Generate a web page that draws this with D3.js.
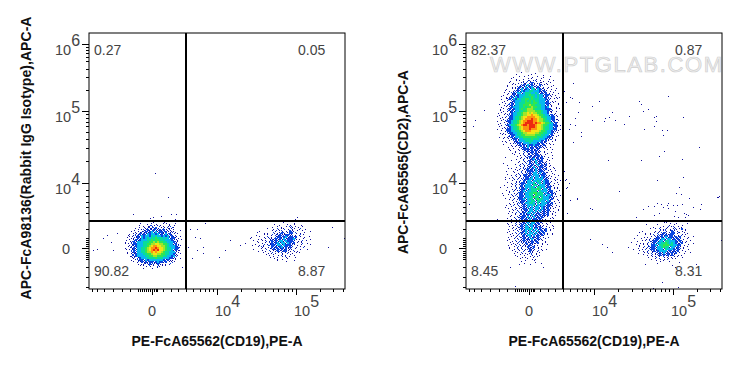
<!DOCTYPE html>
<html>
<head>
<meta charset="utf-8">
<script src="https://cdn.jsdelivr.net/npm/d3@7"></script>
<style>
  body { margin: 0; background: #fff; }
  text { font-family: "Liberation Sans", Arial, sans-serif; }
</style>
</head>
<body>
<script>
// everything is in display channels (0-256)
var xMajor = [63, 128, 207];
var xMinor = [3, 8, 15, 24, 33, 41, 49, 51, 53, 55, 57, 59, 61, 65, 67, 68, 74, 82, 89, 97, 104, 111, 116, 120, 124,
  152, 166, 176, 184, 189, 195, 199, 203, 231, 244, 254];
var xLabels = ['0', '10|4', '10|5'];
var yMajor = [41, 106, 178, 245];
var yMinor = [2, 12, 22, 30, 32, 34, 36, 38, 43, 45, 47, 49, 51, 60, 76, 82, 87, 93, 99,
  128, 141, 150, 157, 163, 167, 171, 175, 199, 212, 220, 228, 232, 236, 239, 242];
var yLabels = ['0', '10|4', '10|5', '10|6'];

var gateX = 97;
var gateY = 68;

var leftTitleX = 'PE-FcA65562(CD19),PE-A';
var leftTitleY = 'APC-FcA98136(Rabbit IgG Isotype),APC-A';
var rightTitleX = 'PE-FcA65562(CD19),PE-A';
var rightTitleY = 'APC-FcA65565(CD2),APC-A';

var leftPercents = ['0.27', '0.05', '90.82', '8.87'];
var rightPercents = ['82.37', '0.87', '8.45', '8.31'];

// density cells, 2 channels each. digits fill the cell, level 2 to 9.
// a-d: one dark blue event in a corner of the cell, e-h: a blue event plus a dark one
var leftNegOrigin = [32, 68];
var leftNegCells = [
  '...........a....c.b..d...a.....',
  '.........b...c.a.d...ab.c..a...',
  '.........a.c.dfeb.ag.c.dh.b....',
  '.......c.a.bcgefe2d.ag.ecfa....',
  '......d.b.aeg2fh2eh2f2bce.a..d.',
  '.....a.cbdge2e23e3h22f2bdhac...',
  '....c.agd2e2g323323e2h3f2cb.a..',
  '...bcdae2f32332434332323f2ce.d.',
  '...a.cfb2e32343445444343e22ad..',
  '..d.a.h2e23334454554443332gbc.a',
  '..c.bf2g3334445565655443332ea..',
  '..ab.e22333445566776655433f2d..',
  '...dafh233344567887766543332fb.',
  '..c.be2f334456788987765443322a.',
  '..b.ag2g334456789897765443f2ec.',
  '...c.e2f3344566878776544333gd..',
  '...a.hg23334455677665544332e.b.',
  '....dfe23333445566555443323ha..',
  '.....bf.g23334444544433322fc.d.',
  '.....c.ae22e3233333332g2ed.a...',
  '......a.fb2e2f22e2322f2.ahb....',
  '........d.cfae2fgb2ed.c.f......',
  '.........b.ad.e.a.gcb.a........',
  '...........c...d..a...........b'
];

var leftPosOrigin = [156, 67];
var leftPosCells = [
  '...................a....d.........',
  '..............b..c...ad.b...c.....',
  '.............d..a.c.b.ee.ad.b.....',
  '...........a..c.e.ah.d.eb..f..c...',
  '.......c.....b.f.ae.d.2gc.a.b...d.',
  '......a..d.c..e.ch2e.a22.e.d.b....',
  '.....d...b.a.f.ge2gg22eh.c.f.a....',
  '...c...a.d.e.c.g22f23e22g2.b.d..a.',
  '..b...d.c.a.ehf2e2e3g2223e.c.a..d.',
  '....a.c.b.h.f2g2e33f3222g.d.f.b...',
  'c.....b.d.a.e2g23g33f32e2.a.h..c..',
  '...d.a.c.f.hg22e33g3222fb.c.a...b.',
  '......b.ea.d.2e2g23f2e2f.d.b.g....',
  '....c...a.h.be2f2g2e2bfc.a.d...c..',
  '......d.b.c.e.af2ge22bd.e.c.......',
  '.........a.d.f.cb.e.ag.d.b.a......',
  '..........b.c.a.d.g.c.b.d.........',
  '............d.a.c.b.e.a..c........',
  '..............b.c.d..a............',
  '................a...d...b.........'
];

var rightColOrigin = [29, 217];
var rightColCells = [
  '.............a......c............',
  '..........b.....d.a.....c........',
  '.........c..a.b...d..a..c..b.....',
  '........a.d...c.b.a.d..a...c.....',
  '.......d..b.a.c.ge.ae.b.c.d..a...',
  '.......a.c.d.aef.f2e.cga.d.b.....',
  '......c.b.a.de2e3f2gd.2hb.a..c...',
  '......a.d.ce2eg3f23ge2f.c.d.a....',
  '.....d..b.a2e3e23g34f32ge.a.c.b..',
  '.....a.c.fg2e3233443332f2g.d..a..',
  '....b.d.e2f33e34443343e2g2.c.a.d.',
  '....c.a.g2e2333445443433f22eb.c..',
  '...a.d.f2g32334444543433e2e.a.d.c',
  '...c.bh2e32434455454443332fg.b.a.',
  '....d.a.e2333445454544333e2.d.c..',
  '...b.c.g2f33444555455433322f.a.d.',
  '..a.d.fe2e334455565544433f2bc..b.',
  '...c.b.h2333445455655443323.a.d..',
  '..d.a.g2e2334545666544433222c.b.a',
  '..b.c.fe2e33445566665554332ef.d..',
  '.d.a.c.g2334456676766554332.a.c..',
  '..c.b.he2334456677877655433f2gd.b',
  '.a.d.f.22344567788887765443322.a.',
  '..b.c.g22344567888988766543322dc.',
  '.c.a.e2234456788999887665443f2.b.',
  '..d.b.f2344567899998988765543g2a.',
  '.b.c.e2344567899899987765543322cd',
  '..a.d.g2344567888999877654433f2a.',
  '.c.b.h2234456788898887765443322.d',
  '...a.f22334456788877776554332fgb.',
  '..d.c.e2233445667777665544332e.a.',
  '...b.a.g2234455666665554433f2c.d.',
  '..c.d.fh2e334455555554443322e.b..',
  '....a.b.g22e33444454443332ehg.c..',
  '...d.c.a.e2f333444433332e2b.d.a..',
  '.....b.d.fg22e33343332f2ge.c.....',
  '....a...c.de2g2e322322eg2c.b.a...',
  '......d.b.a.fe2g3e2g2f2gce.d.....',
  '.......c.a.d.e222f2eg2a.b.c.d....',
  '.......b..c.a.ge2f2g2eh.d.......',
  '........d.a.c.f.eg2e2fa.b.c.a....',
  '.........b..d.e.ghfe22gc.a..d....',
  '.....c.....a.c.hf2e2e2e2b.d......',
  '..........d.b.f.ae23f2g2a.c.b....',
  '........a...c.e.g2fe3e22.d.a.....',
  '...........b.d.h.2fg3e2geh.c.....',
  '......c...a.g.e.fe2ef3e2g2.d.....',
  '..........d.b.f.g2e3gf22ge.a.c...',
  '......b.a.c.f.eh2e2e3e2gf2.d.b...',
  '.....d...c.a.g.f222g3e22g.b.c.a..',
  '.........b.d.e.he2f33e3e2ga.d....',
  '......a.c.g.e.22e2g333f22e.c.b.d.',
  '........d.b.f.g22e3e33e32ef.a.c..',
  '.....c.a.e.g.he2233f3333e2gb.d.c.',
  '........b.d.f.2e33g3343e322.c.a.b',
  '......a.c.g.e22g3334f34e322f.d.a.',
  '....d...b.f.h2e333g44e333e2h.c.b.',
  '......c.a.e.g2f33343f4433e22ad.c.',
  '........d.f.e223e344454e33e2.b.a.',
  '.....b.c.g.ae23g33444f4333e22.d.a',
  '.......a.d.f22e334455444e32g2fc..',
  '....c.b.e.g.22g3344f54443e332.a.d',
  '.......d.a.e22e3334544f43332gfb..',
  '.....a.c.g.f223e344g4544333e2a.c.',
  '........b.d.e22e3344g4433e32.d.b.',
  '.......c.a.fg2e33443f4e3332e2.c.a',
  '.....d.b.g.e.g2e3334e3333e22f.d..',
  '........a.c.ef2e3e3g33g32e2hb.c.a',
  '......b.d.g.af22g33f33e32f2g.a.d.',
  '.......c.a.h.eg2e33g3f3e2f2e.c.b.',
  '......d.b.f.eg2e33f3e2ge2g2.d.a..',
  '........c.a.fe2g2e3h2f2e2f2.b.c..',
  '.......b.d.eg22e3fg3e2f2g.a.d....',
  '......a.c.e.g2e2g3e22f2e.c.b.a...',
  '.......d.b.f.he2g3e3f2g2.a.d.c...',
  '......c.a.g.eg2f3e33f2ge.d.b.....',
  '......b.d.f.h2e3g33f2ge.c.a.d....',
  '.......a.c.eg2e33f3e2f2g.b.c.a...',
  '......d.b.g.f2e3343f3e2ge2.d.a...',
  '.......c.a.h.e23g3f3e3f2g2.b.....',
  '......a.d.e.g2e3f33e3g2f2.c.d....',
  '.......b.c.f.h2e33f3e2g2f.a.b....',
  '......d.a.g.eg2fe3e2f2g.c.d......',
  '.......c.b.h.f2e2f3eg2fc.a.......',
  '......a.d.e.gf2ehe2g2f.b.c.......',
  '.......b.c.f.ea2ge2ef2.d.a.......',
  '......d.a.h.e.gfe2gd.c.b..a......',
  '.......c.b.f.g.a2ef2.d.a.........',
  '.......a.d.e.h.cg2fe.b.c.d.......',
  '........b.c.a.g.d2ea.f.b.........',
  '.........d.a.e.c.fg.d.a..........',
  '..........c.b.d.a.e.b.c..........',
  '...........a.d.c.b.f.a...........',
  '............b...a.d.c............',
  '.............c.a...b.............',
  '..............d.....a..c.........',
  '............a....b...............'
];

var rightPosOrigin = [161, 67];
var rightPosCells = [
  '...................b....d..........',
  '...............a.....c.b...d.......',
  '.............c..d.a.f.ae.b.c.......',
  '...........b..a.e.cg.d.he.a2.c.....',
  '.......d......c.f.ae.b2g.c.d.a.....',
  '......a..c.d.b.g.e2e.h22.fa.b.c....',
  '.....c...a.b.e.fg2e2g22e.d.g.a.....',
  '........d.c.a.e2g2f3e22f2g2.b.d..a.',
  '...b...a.d.f.g22e33f33e2g2f.c.a....',
  '.....c.b.a.eg22e33f443332f2e.d.b...',
  '..a...d.c.f.g2e3344543432ef2.a...c.',
  '....b.c.a.h.223f44555443322.d.b....',
  'd.....a.f.ge22e334544f33e2g.c.a....',
  '...c.b.d.g.e22e333f43332g2f.a.d....',
  '......a.c.f.e2g23333f2e2f2.b.c.....',
  '.....d..b.e.g.fe2g3e2f2e2.a.d..b...',
  '........a.c.f.ae2g2e2e2g.d.c.......',
  '..........d.b.h.a.e.f.cb.a.d.......',
  '............c.a.e.d.g.b.a..........',
  '..............b.d.a..c.............',
  '...............c..........a........',
  '.........a............d...........b',
  '........................c..........'
];

// single stray events
var leftStrayX = [66, 79, 44, 61, 64, 72, 82, 87, 86, 54, 18, 14, 22, 4, 8, 24, 28, 101, 108, 116, 106, 111, 114, 96, 99, 108, 114, 103, 141, 151, 136, 130, 243, 255, 239, 208, 206, 198];
var leftStrayY = [116, 92, 75, 71, 72, 73, 75, 75, 70, 69, 54, 51, 47, 39, 40, 39, 56, 60, 60, 66, 52, 51, 42, 56, 42, 39, 36, 31, 49, 44, 39, 32, 62, 51, 42, 72, 70, 69];
var rightStrayX = [107, 98, 104, 106, 100, 113, 133, 126, 173, 175, 177, 182, 202, 112, 109, 126, 139, 138, 143, 146, 149, 163, 158, 188, 190, 190, 217, 104, 109, 103, 115, 115, 107, 178, 188, 196, 201, 197, 233, 198, 193, 216, 142, 175, 191, 217, 153, 213, 210, 215, 223, 111, 235, 227, 234, 126, 251, 253, 182, 177, 188, 191, 195, 188, 193, 202, 201, 197, 202, 207, 211, 216, 209, 218, 220, 208, 212, 219, 222, 170, 185, 198, 202, 180, 204, 221, 100, 101, 103, 98, 100, 96,
  37, 39, 3, 7, 9, 18, 34, 31, 49, 44, 77, 36, 39, 124, 141, 146, 136, 101, 99, 104, 111, 124, 255, 252, 196, 212, 187];
var rightStrayY = [206, 198, 192, 191, 187, 187, 188, 183, 188, 185, 178, 180, 193, 177, 171, 169, 171, 168, 172, 177, 169, 173, 165, 172, 173, 168, 172, 165, 164, 160, 157, 153, 147, 160, 163, 159, 159, 154, 142, 138, 133, 130, 129, 129, 109, 112, 98, 102, 96, 95, 91, 90, 85, 82, 80, 80, 92, 93, 83, 80, 83, 86, 85, 74, 76, 86, 84, 82, 81, 84, 84, 85, 78, 76, 75, 73, 72, 72, 74, 72, 69, 67, 69, 65, 66, 66, 110, 102, 106, 118, 101, 85,
  126, 112, 85, 163, 169, 179, 102, 70, 3, 22, 22, 96, 82, 50, 42, 37, 45, 76, 109, 89, 91, 81, 49, 92, 7, 2, 1];

var svg = d3.select('body').append('svg')
    .attr('width', 743)
    .attr('height', 369)
    .style('display', 'block');

var levelColor = d3.scaleOrdinal()
    .domain([1, 2, 3, 4, 5, 6, 7, 8, 9])
    .range(['#10109c', '#0a46e0', '#08b8f0', '#08dc9c', '#30e650', '#a0e62a', '#f4e414', '#fc9410', '#ee2a10']);

var x = d3.scaleLinear().domain([0, 256]).range([0, 256]);
var y = d3.scaleLinear().domain([0, 256]).range([256, 0]);

function drawCells(g, cells, origin) {
  var data = [];
  cells.forEach((row, r) => {
    row.split('').forEach((c, i) => {
      if (c === '.') return;
      var cx = origin[0] + i * 2;
      var cy = origin[1] - r * 2;
      var single = 'abcdefgh'.indexOf(c);
      if (single < 0) {
        data.push({ cx: cx, cy: cy, size: 2, level: +c });
        return;
      }
      var dx = single % 2;
      var dy = single % 4 > 1 ? 1 : 0;
      data.push({ cx: cx + dx, cy: cy - dy, size: 1, level: single < 4 ? 1 : 2 });
      if (single >= 4) data.push({ cx: cx + 1 - dx, cy: cy - 1 + dy, size: 1, level: 1 });
    });
  });
  g.append('g').selectAll('rect')
      .data(data)
      .enter().append('rect')
      .attr('x', (d) => x(d.cx))
      .attr('y', (d) => y(d.cy))
      .attr('width', (d) => d.size)
      .attr('height', (d) => d.size)
      .attr('fill', (d) => levelColor(d.level));
}

function powerLabel(sel, label, px, py, anchor) {
  var parts = label.split('|');
  var t = sel.append('text')
      .attr('x', px)
      .attr('y', py)
      .attr('fill', '#444')
      .attr('font-size', 14.5)
      .attr('text-anchor', anchor);
  t.append('tspan').text(parts[0]);
  if (parts[1]) t.append('tspan').attr('font-size', 16).attr('dy', -9).text(parts[1]);
}

function drawPlot(opts) {
  var g = svg.append('g').attr('transform', `translate(${opts.left},33)`);

  if (opts.mark) {
    g.append('text')
        .attr('x', 24)
        .attr('y', 39)
        .attr('font-size', 22)
        .attr('fill', '#f0f0f0')
        .attr('stroke', '#cfcfcf')
        .attr('stroke-width', 0.7)
        .attr('textLength', 232)
        .text(opts.mark);
  }

  opts.grids.forEach((p) => drawCells(g, p[0], p[1]));

  g.append('g').selectAll('rect')
      .data(opts.strayX)
      .enter().append('rect')
      .attr('x', (d) => x(d))
      .attr('y', (d, i) => y(opts.strayY[i]))
      .attr('width', 1)
      .attr('height', 1)
      .attr('fill', levelColor(1));

  // gates
  g.append('line').attr('x1', x(gateX)).attr('x2', x(gateX)).attr('y1', 0).attr('y2', 256)
      .attr('stroke', '#000').attr('stroke-width', 2);
  g.append('line').attr('x1', 0).attr('x2', 256).attr('y1', y(gateY)).attr('y2', y(gateY))
      .attr('stroke', '#000').attr('stroke-width', 2);

  g.append('rect').attr('width', 256).attr('height', 256)
      .attr('fill', 'none').attr('stroke', '#000').attr('stroke-width', 1);

  // axes, long ticks then short ones
  [[xMajor, 6], [xMinor, 3]].forEach((t) => {
    g.append('g')
        .attr('transform', 'translate(0,256)')
        .call(d3.axisBottom(x).tickValues(t[0]).tickSize(t[1]).tickFormat(''))
        .call((a) => a.select('.domain').remove());
  });
  [[yMajor, 7], [yMinor, 3]].forEach((t) => {
    g.append('g')
        .call(d3.axisLeft(y).tickValues(t[0]).tickSize(t[1]).tickFormat(''))
        .call((a) => a.select('.domain').remove());
  });

  xLabels.forEach((l, i) => {
    var first = i === 0;
    powerLabel(g, l, first ? x(xMajor[i]) : x(xMajor[i]) - 2, 283, first ? 'middle' : 'start');
  });
  yLabels.forEach((l, i) => {
    var first = i === 0;
    powerLabel(g, l, first ? -23 : -34, first ? y(yMajor[i]) + 6 : y(yMajor[i]) + 11, first ? 'middle' : 'start');
  });

  // quadrant percentages
  var spots = [[5, 22], [209, 22], [5, 243], [209, 243]];
  opts.percents.forEach((p, i) => {
    g.append('text')
        .attr('x', spots[i][0])
        .attr('y', spots[i][1])
        .attr('font-size', 14)
        .attr('fill', '#444')
        .text(p);
  });

  g.append('text')
      .attr('x', 128)
      .attr('y', 313)
      .attr('text-anchor', 'middle')
      .attr('font-size', 14)
      .attr('font-weight', 'bold')
      .attr('fill', '#111')
      .attr('textLength', 171)
      .text(opts.titleX);

  g.append('text')
      .attr('transform', `translate(${opts.titleYX},${opts.titleYMid}) rotate(-90)`)
      .attr('text-anchor', 'middle')
      .attr('font-size', 14)
      .attr('font-weight', 'bold')
      .attr('fill', '#111')
      .attr('textLength', opts.titleYLen)
      .text(opts.titleY);
}

drawPlot({
  left: 89,
  grids: [[leftNegCells, leftNegOrigin], [leftPosCells, leftPosOrigin]],
  strayX: leftStrayX,
  strayY: leftStrayY,
  percents: leftPercents,
  titleX: leftTitleX,
  titleY: leftTitleY,
  titleYX: -58,
  titleYMid: 125,
  titleYLen: 283
});

drawPlot({
  left: 466,
  mark: 'WWW.PTGLAB.COM',
  grids: [[rightColCells, rightColOrigin], [rightPosCells, rightPosOrigin]],
  strayX: rightStrayX,
  strayY: rightStrayY,
  percents: rightPercents,
  titleX: rightTitleX,
  titleY: rightTitleY,
  titleYX: -58,
  titleYMid: 129,
  titleYLen: 184
});
</script>
</body>
</html>
